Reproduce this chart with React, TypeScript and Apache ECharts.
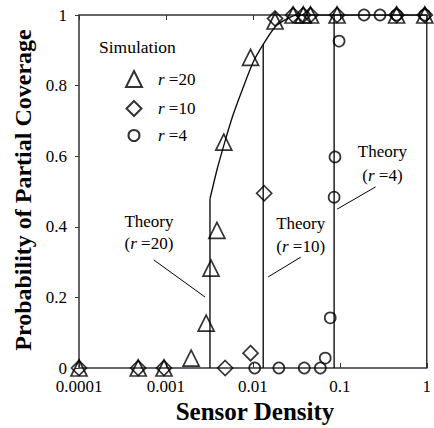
import React, { useEffect, useRef } from "react";
import * as echarts from "echarts";

// ---- data ----
const xTickLabels = ["0.0001", "0.001", "0.01", "0.1", "1"];
const yTickLabels = ["0", "0.2", "0.4", "0.6", "0.8", "1"];

const simR20: [number, number][] = [
  [0.0001, 0], [0.00048, 0], [0.00095, 0], [0.00195, 0.028], [0.0029, 0.127],
  [0.0033, 0.283], [0.00386, 0.39], [0.00463, 0.64], [0.0094, 0.88],
  [0.018, 0.983], [0.029, 1], [0.038, 1], [0.046, 1], [0.093, 1], [0.45, 1], [0.95, 1],
];
const simR10: [number, number][] = [
  [0.0001, 0], [0.00048, 0], [0.00095, 0], [0.0048, 0], [0.0094, 0.042],
  [0.0135, 0.495], [0.018, 0.99], [0.029, 1], [0.038, 1], [0.046, 1],
  [0.093, 1], [0.45, 1], [0.95, 1],
];
const simR4: [number, number][] = [
  [0.0105, 0], [0.0199, 0], [0.039, 0], [0.0597, 0], [0.068, 0.028],
  [0.0776, 0.142], [0.086, 0.484], [0.088, 0.598], [0.098, 0.926],
  [0.19, 1], [0.29, 1], [0.45, 1], [0.95, 1],
];
const theoryCurve: [number, number][] = [
  [0.00321, 0.479], [0.00386, 0.561], [0.00475, 0.64], [0.00586, 0.714],
  [0.0076, 0.79], [0.0101, 0.867], [0.01315, 0.917], [0.018, 0.966],
  [0.0234, 0.986], [0.0319, 1], [1, 1],
];
const theoryR20: [number, number][] = [[0.00321, 0], [0.00321, 0.479]];
const theoryR10: [number, number][] = [[0.01315, 0], [0.01315, 0.917]];
const theoryR4: [number, number][] = [[0.086, 0], [0.086, 1]];

const seriesNames = ["r =20", "r =10", "r =4"];
const seriesSymbols = ["triangle", "diamond", "circle"];
const symbolSizes = [16, 15, 11];

// annotation anchors in data coordinates
const annoTexts: { x: number; y: number; text: string }[] = [
  { x: 0.000638, y: 0.414, text: "Theory" },
  { x: 0.000638, y: 0.354, text: "({i|r} =20)" },
  { x: 0.0355, y: 0.408, text: "Theory" },
  { x: 0.0355, y: 0.343, text: "({i|r} =10)" },
  { x: 0.309, y: 0.612, text: "Theory" },
  { x: 0.309, y: 0.544, text: "({i|r} =4)" },
];
const annoLines: [number, number, number, number][] = [
  [0.000726, 0.306, 0.00282, 0.201],
  [0.0355, 0.314, 0.015, 0.258],
  [0.258, 0.513, 0.0931, 0.45],
];

const FONT = "Liberation Serif";

export default function App() {
  const ref = useRef<HTMLDivElement>(null);
  useEffect(() => {
    if (!ref.current) return;
    const chart = echarts.init(ref.current, undefined, { renderer: "svg" });
    const markerStyle = { color: "rgba(0,0,0,0)", borderColor: "#000", borderWidth: 1.7 };
    const lineStyle = { color: "#111", width: 1.4 };
    const xAxisBase = {
      type: "log" as const,
      logBase: 10,
      min: 0.0001,
      max: 1,
      axisLine: { show: false },
      splitLine: { show: false },
      axisTick: { inside: true, length: 5, lineStyle: { color: "#333", width: 1 } },
    };
    const legendTops = [65, 95, 122];
    const legends = seriesNames.map((name, i) => {
      const w = symbolSizes[i];
      const left = 128 - w / 2;
      return {
        orient: "vertical",
        left,
        top: legendTops[i],
        itemWidth: w,
        itemHeight: w,
        data: [name],
        formatter: (n: string) => `{i|r}{n|${n.slice(1)}}`,
        textStyle: {
          fontFamily: FONT, fontSize: 17, color: "#000",
          padding: [0, 0, 0, 152 - (left + w + 5)],
          rich: {
            i: { fontFamily: FONT, fontSize: 17, fontStyle: "italic", color: "#000" },
            n: { fontFamily: FONT, fontSize: 17, color: "#000" },
          },
        },
        selectedMode: false,
      };
    });
    chart.setOption({
      animation: false,
      grid: {
        left: 79, right: 2, top: 15, bottom: 60,
        show: true, borderColor: "#333", borderWidth: 1.5,
      },
      xAxis: [
        {
          ...xAxisBase,
          position: "bottom",
          axisLabel: {
            fontFamily: FONT, fontSize: 17, color: "#000", margin: 10,
            formatter: (v: number) => xTickLabels[Math.round(Math.log10(v)) + 4] ?? "",
          },
        },
        { ...xAxisBase, position: "top", axisLabel: { show: false } },
      ],
      yAxis: {
        type: "value", min: 0, max: 1, interval: 0.2,
        axisLine: { show: false },
        splitLine: { show: false },
        axisTick: { show: true, inside: false, length: 4, lineStyle: { color: "#333", width: 1 } },
        axisLabel: {
          fontFamily: FONT, fontSize: 17, color: "#000", margin: 12,
          formatter: (v: number) => yTickLabels[Math.round(v / 0.2)] ?? "",
        },
      },
      legend: legends,
      series: [
        { type: "line", data: theoryCurve, smooth: 0.25, symbol: "none", lineStyle, silent: true },
        { type: "line", data: theoryR20, symbol: "none", lineStyle, silent: true },
        { type: "line", data: theoryR10, symbol: "none", lineStyle, silent: true },
        { type: "line", data: theoryR4, symbol: "none", lineStyle, silent: true },
        { name: seriesNames[0], type: "scatter", data: simR20, symbol: seriesSymbols[0], symbolSize: symbolSizes[0], itemStyle: markerStyle, clip: false, z: 5 },
        { name: seriesNames[1], type: "scatter", data: simR10, symbol: seriesSymbols[1], symbolSize: symbolSizes[1], itemStyle: markerStyle, clip: false, z: 5 },
        { name: seriesNames[2], type: "scatter", data: simR4, symbol: seriesSymbols[2], symbolSize: symbolSizes[2], itemStyle: markerStyle, clip: false, z: 5 },
      ],
    });

    const px = (x: number, y: number) =>
      chart.convertToPixel({ xAxisIndex: 0, yAxisIndex: 0 }, [x, y]) as number[];

    const graphics: any[] = [
      {
        type: "text", left: 99, top: 38,
        style: { text: "Simulation", fontFamily: FONT, fontSize: 17.5, fill: "#000" },
      },
      {
        type: "text", x: 255, y: 411,
        style: {
          text: "Sensor Density", fontFamily: FONT, fontSize: 25, fontWeight: "bold",
          fill: "#000", align: "center", verticalAlign: "middle",
        },
      },
      {
        type: "text", x: 23, y: 190, rotation: Math.PI / 2,
        style: {
          text: "Probability of Partial Coverage", fontFamily: FONT, fontSize: 24, fontWeight: "bold",
          fill: "#000", align: "center", verticalAlign: "middle",
        },
      },
    ];
    annoTexts.forEach((a) => {
      const p = px(a.x, a.y);
      graphics.push({
        type: "text", x: p[0], y: p[1],
        style: {
          text: a.text, fontFamily: FONT, fontSize: 17, fill: "#000",
          align: "center", verticalAlign: "middle",
          rich: { i: { fontFamily: FONT, fontSize: 17, fontStyle: "italic", fill: "#000" } },
        },
      });
    });
    annoLines.forEach((l) => {
      const a = px(l[0], l[1]);
      const b = px(l[2], l[3]);
      graphics.push({
        type: "line",
        shape: { x1: a[0], y1: a[1], x2: b[0], y2: b[1] },
        style: { stroke: "#000", lineWidth: 1 },
      });
    });
    chart.setOption({ graphic: graphics });

    return () => chart.dispose();
  }, []);
  return <div ref={ref} style={{ width: 434, height: 428, position: "absolute", left: 0, top: 0 }} />;
}
